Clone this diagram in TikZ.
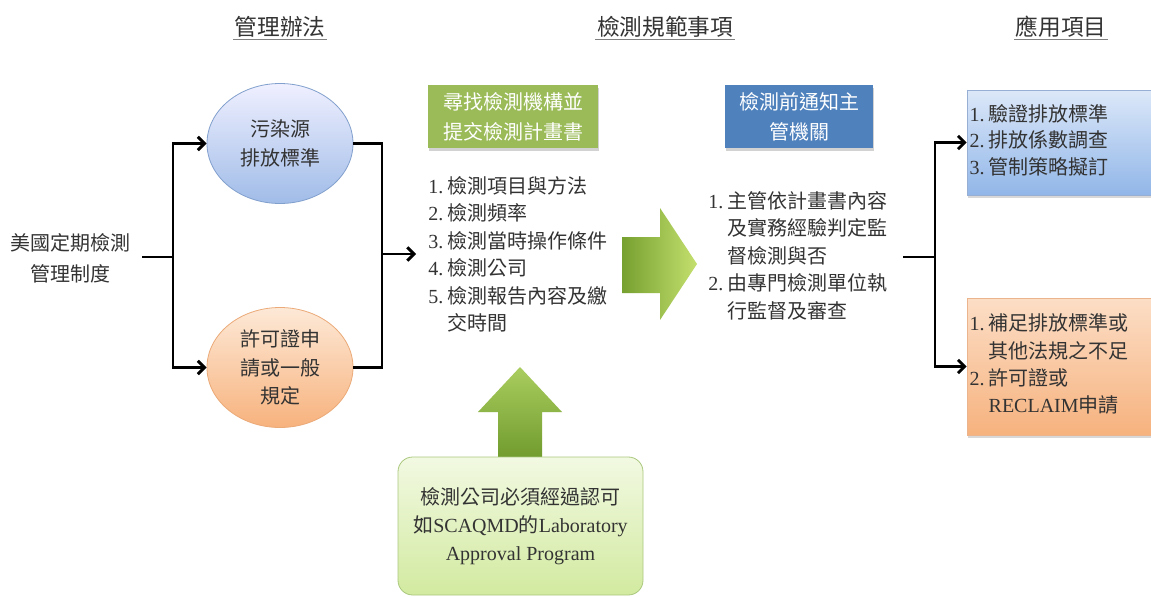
\documentclass[tikz,border=0pt]{standalone}
\usepackage{fontspec}
\setmainfont{Liberation Serif}
\newfontfamily\cjk{Noto Sans CJK TC}
\usetikzlibrary{shapes.geometric,arrows.meta,shadows}
\definecolor{txt}{HTML}{333333}
\definecolor{grnhd}{HTML}{9BBB59}
\definecolor{bluhd}{HTML}{4F81BD}
\newcommand\fsl{\fontsize{15}{20.6}\selectfont}
\newcommand\fsh{\fontsize{17}{22}\selectfont}
\newcommand\lat[1]{{\rmfamily #1}}
\begin{document}
\begin{tikzpicture}[x=0.75pt,y=-0.75pt,
  every node/.style={text=txt},
  hdr/.style={font=\cjk\fsh, inner sep=1pt},
  conn/.style={line width=2.2pt, black},
  arr/.style={conn, -{Straight Barb[length=5pt,width=10pt]}},
  ell/.style={ellipse, minimum width=109.5pt, minimum height=90pt, inner sep=0pt,
    align=center, font=\cjk\fontsize{15}{21.5}\selectfont, line width=0.6pt},
  hbox/.style={rectangle, minimum width=#1, minimum height=47.25pt, inner sep=0pt,
    align=center, font=\cjk\fontsize{15}{22.5}\selectfont, text=white,
    drop shadow={opacity=0.35, shadow xshift=1pt, shadow yshift=-2pt}},
  rbox/.style={rectangle, text width=134pt, inner xsep=2pt, inner ysep=0pt, align=left,
    line width=0.5pt, drop shadow={opacity=0.3, shadow xshift=1pt, shadow yshift=-2pt}},
  lst/.style={font=\cjk\fsl, inner sep=0pt, align=left},
]
\useasboundingbox[fill=white] (0,0) rectangle (1151,596);

% headers
\node[hdr] (h1) at (280,27) {管理辦法};
\node[hdr] (h2) at (665,27) {檢測規範事項};
\node[hdr] (h3) at (1061,27) {應用項目};
\foreach \h in {h1,h2,h3}
  \draw[gray, line width=0.6pt] (\h.south west) -- (\h.south east);

% left source
\node[font=\cjk\fontsize{15}{23}\selectfont, align=center, inner sep=0pt] (src) at (70,258) {美國定期檢測\\管理制度};
\coordinate (s0) at (142,257);
\coordinate (j1) at (173,257);

% ellipses
\node[ell, top color=blue!6!white, bottom color={rgb,255:red,160;green,188;blue,232}, draw={rgb,255:red,130;green,160;blue,205}] (e1) at (280,143.5) {污染源\\排放標準};
\node[ell, top color={rgb,255:red,253;green,233;blue,215}, bottom color={rgb,255:red,247;green,178;blue,125}, draw={rgb,255:red,235;green,170;blue,120}] (e2) at (280,367.5) {許可證申\\請或一般\\規定};

\draw[conn] (s0) -- (j1);
\draw[arr] (j1) |- (e1.west);
\draw[arr] (j1) |- (e2.west);

\coordinate (j2) at (382,254);
\coordinate (a2) at (416,254);
\draw[conn] (e1.east) -| (j2);
\draw[conn] (e2.east) -| (j2);
\draw[arr] (j2) -- (a2);

% green header
\node[hbox=127.5pt, fill=grnhd] (g1) at (513,116.5) {尋找檢測機構並\\提交檢測計畫書};
% list 1
\node[lst, anchor=north west] (l1) at (428,174) {%
\begin{tabular}{@{}l@{\hspace{3pt}}l@{}}
\lat{1.} & 檢測項目與方法\\
\lat{2.} & 檢測頻率\\
\lat{3.} & 檢測當時操作條件\\
\lat{4.} & 檢測公司\\
\lat{5.} & 檢測報告內容及繳\\
 & 交時間
\end{tabular}};

% big right arrow
\shade[left color={rgb,255:red,118;green,160;blue,48}, right color={rgb,255:red,196;green,224;blue,110}]
  (622,237) -- (660,237) -- (660,208) -- (697,264) -- (660,320) -- (660,293) -- (622,293) -- cycle;

% blue header
\node[hbox=111pt, fill=bluhd] (b1) at (799,116.5) {檢測前通知主\\管機關};
% list 2
\node[lst, anchor=north west] (l2) at (708,189) {%
\begin{tabular}{@{}l@{\hspace{3pt}}l@{}}
\lat{1.} & 主管依計畫書內容\\
 & 及實務經驗判定監\\
 & 督檢測與否\\
\lat{2.} & 由專門檢測單位執\\
 & 行監督及審查
\end{tabular}};

% up arrow
\shade[bottom color={rgb,255:red,112;green,155;blue,45}, top color={rgb,255:red,170;green,205;blue,95}]
  (498,459) -- (498,412) -- (478,412) -- (520,367) -- (562,412) -- (542,412) -- (542,459) -- cycle;

% bottom box
\node[rectangle, rounded corners=11pt, minimum width=183.75pt, minimum height=103.5pt,
  top color={rgb,255:red,242;green,249;blue,226}, bottom color={rgb,255:red,210;green,234;blue,160},
  draw={rgb,255:red,170;green,200;blue,125}, line width=0.6pt, align=center, inner sep=0pt,
  font=\fontsize{15}{21}\selectfont] (lab) at (520.5,526)
  {{\cjk 檢測公司必須經過認可}\\{\cjk 如}SCAQMD{\cjk 的}Laboratory\\Approval Program};

% right junction
\coordinate (s3) at (903,257);
\coordinate (j3) at (935,257);
\node[rbox, minimum height=78.75pt, top color={rgb,255:red,220;green,232;blue,249}, bottom color={rgb,255:red,145;green,182;blue,232}, draw={rgb,255:red,150;green,175;blue,210}, font=\cjk\fontsize{15}{19.9}\selectfont] (r1) at (1059,142.5) {%
\begin{tabular}{@{}l@{\hspace{3pt}}l@{}}
\lat{1.} & 驗證排放標準\\
\lat{2.} & 排放係數調查\\
\lat{3.} & 管制策略擬訂
\end{tabular}};
\node[rbox, minimum height=102.75pt, top color={rgb,255:red,252;green,222;blue,198}, bottom color={rgb,255:red,246;green,178;blue,126}, draw={rgb,255:red,235;green,180;blue,140}, font=\cjk\fontsize{15}{20.5}\selectfont] (r2) at (1059,366.5) {%
\begin{tabular}{@{}l@{\hspace{3pt}}l@{}}
\lat{1.} & 補足排放標準或\\
 & 其他法規之不足\\
\lat{2.} & 許可證或\\
 & \lat{RECLAIM}申請
\end{tabular}};
\draw[conn] (s3) -- (j3);
\draw[arr] (j3) |- (r1.west);
\draw[arr] (j3) |- (r2.west);
\end{tikzpicture}
\end{document}
